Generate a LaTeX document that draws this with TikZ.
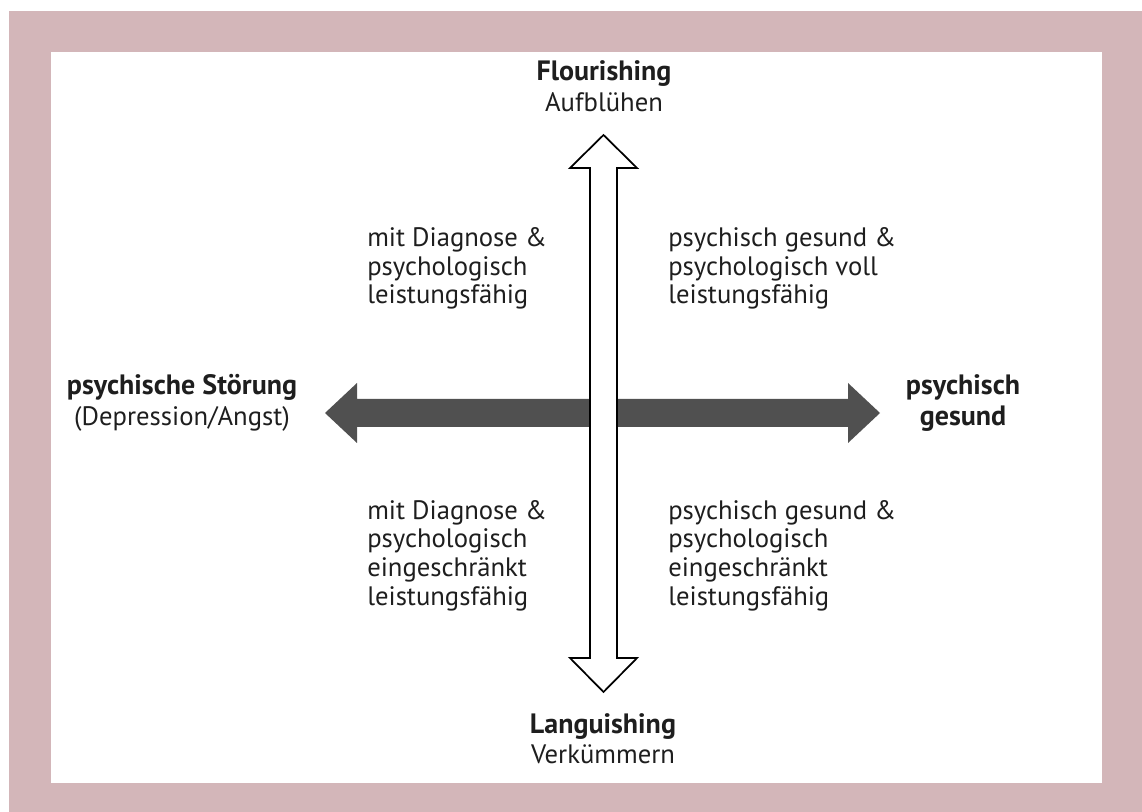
\documentclass[tikz,border=0pt]{standalone}
\usepackage{fontspec}
\setmainfont{PT Sans}
\definecolor{frame}{HTML}{D3B6B9}
\definecolor{darkarrow}{HTML}{505050}
\definecolor{txt}{HTML}{1E1E1E}
\begin{document}
\begin{tikzpicture}[x=0.75pt,y=-0.75pt,
  lbl/.style={inner sep=0pt,text=txt,font=\fontsize{20}{21.4}\selectfont},
  blbl/.style={inner sep=0pt,text=txt,font=\fontsize{21}{21.4}\selectfont\bfseries},
  harrow/.style={fill=darkarrow,draw=none},
  varrow/.style={fill=white,draw=black,line width=1.3pt,line join=miter}]
\useasboundingbox (0,0) rectangle (1142,812);
\fill[white] (0,0) rectangle (1142,812);
\fill[frame] (9,11) rectangle (1142,812);
\fill[white] (51,52) rectangle (1102,783);
% horizontal double arrow
\fill[harrow] (325,413) -- (357,383) -- (357,399) -- (848,399) -- (848,383)
  -- (880,413) -- (848,443) -- (848,427) -- (357,427) -- (357,443) -- cycle;
% vertical double arrow
\draw[varrow] (603.5,135) -- (637,168) -- (617,168) -- (617,658) -- (637,658)
  -- (603.5,692) -- (570,658) -- (590,658) -- (590,168) -- (570,168) -- cycle;
% labels
\node[blbl,anchor=base] (fl) at (604,81) {Flourishing};
\node[lbl,anchor=base] (au) at (604,112) {Aufblühen};
\node[blbl,anchor=base] (la) at (603,733) {Languishing};
\node[lbl,anchor=base] (ve) at (603,763) {Verkümmern};
\node[blbl,anchor=base] (ps) at (182,395) {psychische Störung};
\node[lbl,anchor=base] (de) at (182,426) {(Depression/Angst)};
\node[blbl,anchor=base] (pg) at (963,395) {psychisch};
\node[blbl,anchor=base] (ge) at (963,426) {gesund};
\node[lbl,anchor=base west,align=left] (ul) at (367,304)
  {mit Diagnose \&\\psychologisch\\leistungsfähig};
\node[lbl,anchor=base west,align=left] (ur) at (668,304)
  {psychisch gesund \&\\psychologisch voll\\leistungsfähig};
\node[lbl,anchor=base west,align=left] (ll) at (367,605)
  {mit Diagnose \&\\psychologisch\\eingeschränkt\\leistungsfähig};
\node[lbl,anchor=base west,align=left] (lr) at (668,605)
  {psychisch gesund \&\\psychologisch\\eingeschränkt\\leistungsfähig};
\end{tikzpicture}
\end{document}
